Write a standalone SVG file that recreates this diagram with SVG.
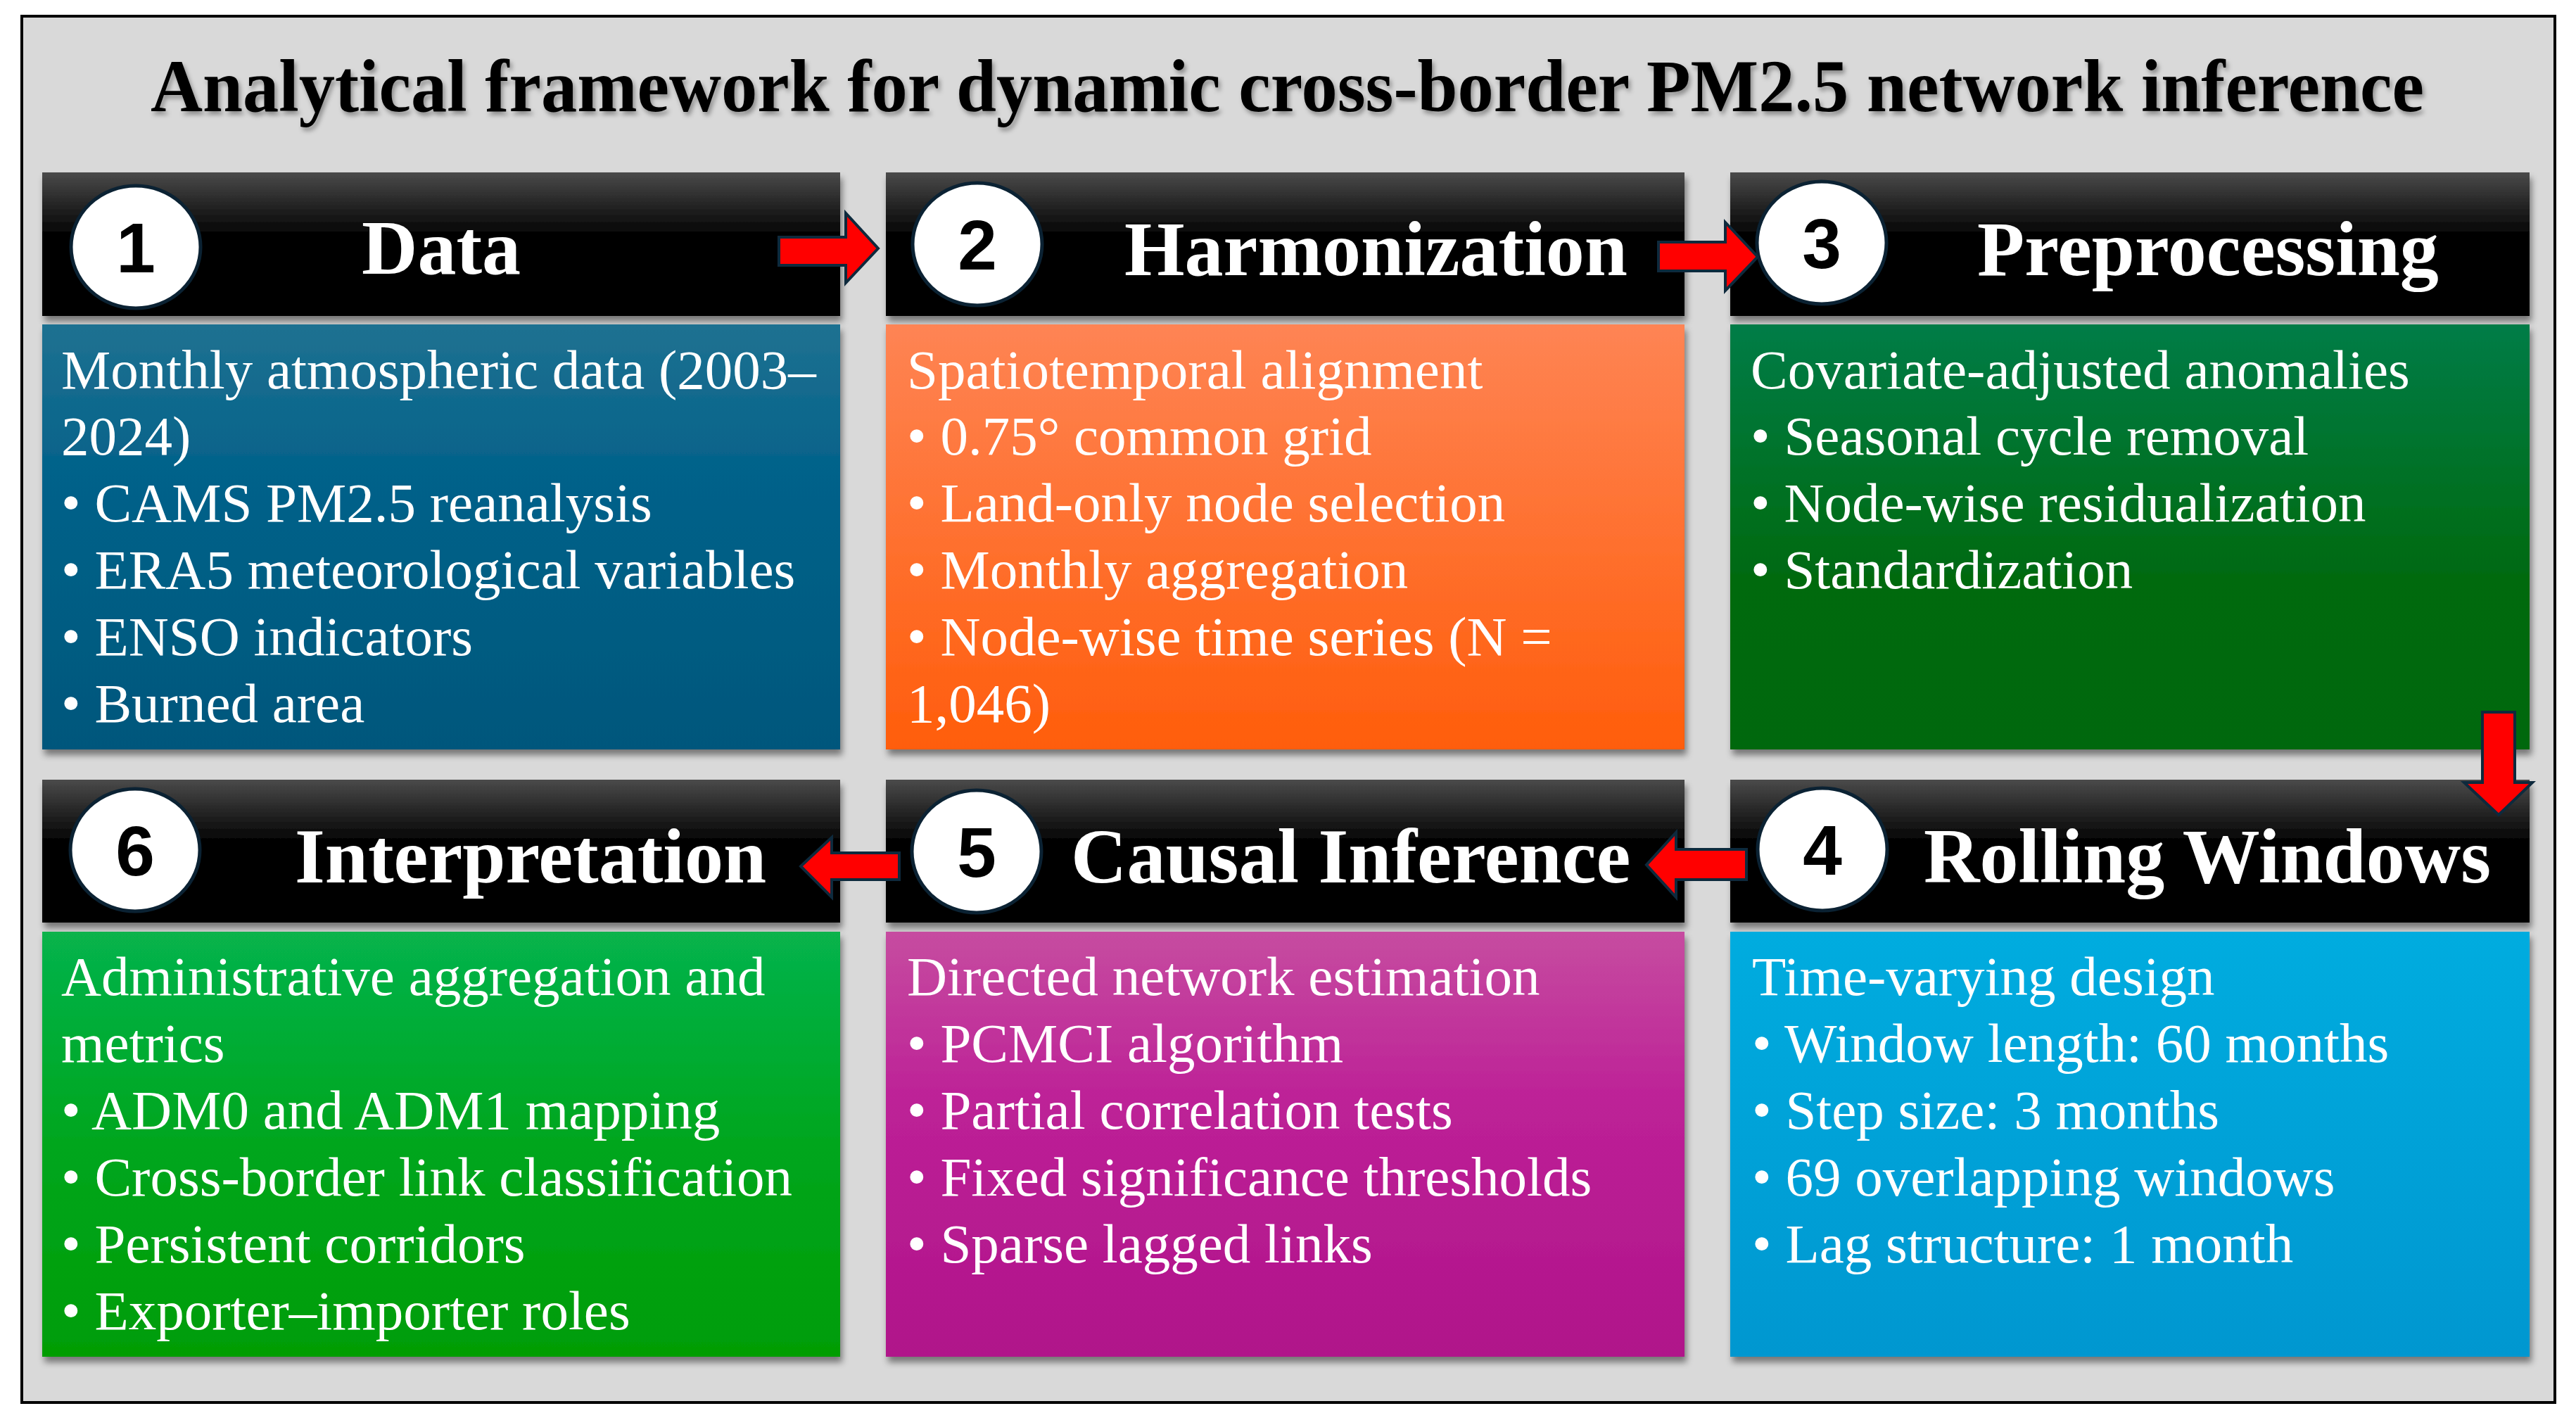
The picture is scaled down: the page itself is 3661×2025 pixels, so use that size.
<svg xmlns="http://www.w3.org/2000/svg" width="3661" height="2025" viewBox="0 0 3661 2025">
<defs>
<linearGradient id="hdr" x1="0" y1="0" x2="0" y2="1">
<stop offset="0" stop-color="#4a4a4a"/><stop offset="0.45" stop-color="#000"/><stop offset="1" stop-color="#000"/>
</linearGradient>
<linearGradient id="g1" x1="0" y1="0" x2="0" y2="1"><stop offset="0" stop-color="#1f7191"/><stop offset="0.35" stop-color="#03628a"/><stop offset="1" stop-color="#03577c"/></linearGradient>
<linearGradient id="g2" x1="0" y1="0" x2="0" y2="1"><stop offset="0" stop-color="#fe8454"/><stop offset="1" stop-color="#ff5d0b"/></linearGradient>
<linearGradient id="g3" x1="0" y1="0" x2="0" y2="1"><stop offset="0" stop-color="#067c47"/><stop offset="0.6" stop-color="#006a10"/><stop offset="1" stop-color="#006809"/></linearGradient>
<linearGradient id="g4" x1="0" y1="0" x2="0" y2="1"><stop offset="0" stop-color="#04acdf"/><stop offset="1" stop-color="#0097d0"/></linearGradient>
<linearGradient id="g5" x1="0" y1="0" x2="0" y2="1"><stop offset="0" stop-color="#c64ca0"/><stop offset="0.4" stop-color="#bd2197"/><stop offset="1" stop-color="#b0148a"/></linearGradient>
<linearGradient id="g6" x1="0" y1="0" x2="0" y2="1"><stop offset="0" stop-color="#07b34c"/><stop offset="0.5" stop-color="#00a61e"/><stop offset="1" stop-color="#009d05"/></linearGradient>
<filter id="sh" x="-5%" y="-5%" width="110%" height="120%">
<feDropShadow dx="3" dy="8" stdDeviation="5" flood-color="#000" flood-opacity="0.45"/>
</filter>
<filter id="tsh" x="-2%" y="-20%" width="104%" height="150%">
<feDropShadow dx="3" dy="5" stdDeviation="3" flood-color="#000" flood-opacity="0.35"/>
</filter>
<style>
.title{font-family:"Liberation Serif","Times New Roman",serif;font-weight:bold;font-size:105px;fill:#000}
.hd{font-family:"Liberation Serif","Times New Roman",serif;font-weight:bold;font-size:110px;fill:#fff}
.num{font-family:"Liberation Sans",Arial,sans-serif;font-weight:bold;font-size:100px;fill:#000;text-anchor:middle}
.bd{font-family:"Liberation Serif","Times New Roman",serif;font-size:79px;fill:#fff}
.circ{fill:#fff;stroke:#0b2233;stroke-width:5}
.arr{fill:#ff0000;stroke:#0e2a3d;stroke-width:4;stroke-linejoin:miter}
.hbox{fill:url(#hdr)}
</style>
</defs>
<rect x="31" y="23" width="3600" height="1970" fill="#d9d9d9" stroke="#000" stroke-width="4"/>
<text class="title" x="214" y="158" textLength="3231" lengthAdjust="spacingAndGlyphs" filter="url(#tsh)">Analytical framework for dynamic cross-border PM2.5 network inference</text>

<g id="node1">
<rect class="hbox" x="60" y="245" width="1134" height="204" filter="url(#sh)"/>
<rect x="60" y="461" width="1134" height="604" fill="url(#g1)" filter="url(#sh)"/>
<ellipse class="circ" cx="193" cy="351" rx="92" ry="87"/>
<text class="num" x="193" y="387">1</text>
<text class="hd" x="514" y="389">Data</text>
<text class="bd"><tspan x="87" y="552">Monthly atmospheric data (2003–</tspan><tspan x="87" y="646">2024)</tspan><tspan x="87" y="741">• CAMS PM2.5 reanalysis</tspan><tspan x="87" y="836">• ERA5 meteorological variables</tspan><tspan x="87" y="931">• ENSO indicators</tspan><tspan x="87" y="1026">• Burned area</tspan></text>
</g>

<g id="node2">
<rect class="hbox" x="1259" y="245" width="1135" height="204" filter="url(#sh)"/>
<rect x="1259" y="461" width="1135" height="604" fill="url(#g2)" filter="url(#sh)"/>
<ellipse class="circ" cx="1389" cy="347" rx="92" ry="87"/>
<text class="num" x="1389" y="383">2</text>
<text class="hd" x="1598" y="391">Harmonization</text>
<text class="bd"><tspan x="1289" y="552">Spatiotemporal alignment</tspan><tspan x="1289" y="646">• 0.75° common grid</tspan><tspan x="1289" y="741">• Land-only node selection</tspan><tspan x="1289" y="836">• Monthly aggregation</tspan><tspan x="1289" y="931">• Node-wise time series (N =</tspan><tspan x="1289" y="1026">1,046)</tspan></text>
</g>

<g id="node3">
<rect class="hbox" x="2459" y="245" width="1136" height="204" filter="url(#sh)"/>
<rect x="2459" y="461" width="1136" height="604" fill="url(#g3)" filter="url(#sh)"/>
<ellipse class="circ" cx="2589" cy="345" rx="92" ry="87"/>
<text class="num" x="2589" y="381">3</text>
<text class="hd" x="2810" y="391">Preprocessing</text>
<text class="bd"><tspan x="2488" y="552">Covariate-adjusted anomalies</tspan><tspan x="2488" y="646">• Seasonal cycle removal</tspan><tspan x="2488" y="741">• Node-wise residualization</tspan><tspan x="2488" y="836">• Standardization</tspan></text>
</g>

<g id="node4">
<rect class="hbox" x="2459" y="1108" width="1136" height="203" filter="url(#sh)"/>
<rect x="2459" y="1324" width="1136" height="604" fill="url(#g4)" filter="url(#sh)"/>
<ellipse class="circ" cx="2590" cy="1207" rx="92" ry="87"/>
<text class="num" x="2590" y="1243">4</text>
<text class="hd" x="2734" y="1254">Rolling Windows</text>
<text class="bd"><tspan x="2490" y="1414">Time-varying design</tspan><tspan x="2490" y="1509">• Window length: 60 months</tspan><tspan x="2490" y="1604">• Step size: 3 months</tspan><tspan x="2490" y="1699">• 69 overlapping windows</tspan><tspan x="2490" y="1794">• Lag structure: 1 month</tspan></text>
</g>

<g id="node5">
<rect class="hbox" x="1259" y="1108" width="1135" height="203" filter="url(#sh)"/>
<rect x="1259" y="1324" width="1135" height="604" fill="url(#g5)" filter="url(#sh)"/>
<ellipse class="circ" cx="1388" cy="1210" rx="92" ry="87"/>
<text class="num" x="1388" y="1246">5</text>
<text class="hd" x="1522" y="1254">Causal Inference</text>
<text class="bd"><tspan x="1289" y="1414">Directed network estimation</tspan><tspan x="1289" y="1509">• PCMCI algorithm</tspan><tspan x="1289" y="1604">• Partial correlation tests</tspan><tspan x="1289" y="1699">• Fixed significance thresholds</tspan><tspan x="1289" y="1794">• Sparse lagged links</tspan></text>
</g>

<g id="node6">
<rect class="hbox" x="60" y="1108" width="1134" height="203" filter="url(#sh)"/>
<rect x="60" y="1324" width="1134" height="604" fill="url(#g6)" filter="url(#sh)"/>
<ellipse class="circ" cx="192" cy="1208" rx="92" ry="87"/>
<text class="num" x="192" y="1244">6</text>
<text class="hd" x="419" y="1254">Interpretation</text>
<text class="bd"><tspan x="87" y="1414">Administrative aggregation and</tspan><tspan x="87" y="1509">metrics</tspan><tspan x="87" y="1604">• ADM0 and ADM1 mapping</tspan><tspan x="87" y="1699">• Cross-border link classification</tspan><tspan x="87" y="1794">• Persistent corridors</tspan><tspan x="87" y="1889">• Exporter–importer roles</tspan></text>
</g>

<g id="connectors">
<polygon class="arr" points="1107,337 1202,337 1202,303 1248,353 1202,402 1202,377 1107,377"/>
<polygon class="arr" points="2357,344 2452,344 2452,316 2498,365 2452,413 2452,385 2357,385"/>
<polygon class="arr" points="3528,1012 3574,1012 3574,1112 3599,1112 3551,1158 3502,1112 3528,1112"/>
<polygon class="arr" points="2482,1207 2382,1207 2382,1183 2340,1229 2382,1275 2382,1250 2482,1250"/>
<polygon class="arr" points="1278,1212 1182,1212 1182,1190 1138,1231 1182,1275 1182,1250 1278,1250"/>
</g>
</svg>
